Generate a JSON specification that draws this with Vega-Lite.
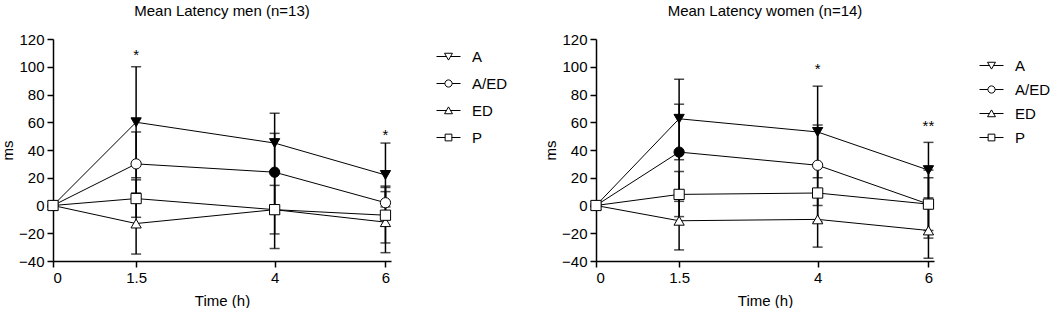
{
  "$schema": "https://vega.github.io/schema/vega-lite/v6.json",
  "padding": {"left": 0, "top": 4, "right": 0, "bottom": 0},
  "spacing": 35,
  "config": {
    "font": "Liberation Sans",
    "view": {"stroke": null},
    "axis": {"grid": false, "domainColor": "black", "tickColor": "black", "labelColor": "black", "titleColor": "black", "labelFontSize": 15, "titleFontSize": 15, "titleFontWeight": "normal", "domainWidth": 1.5, "tickWidth": 1.5, "tickSize": 6, "labelPadding": 3, "labelFont": "Liberation Sans", "titleFont": "Liberation Sans"},
    "legend": {"labelFont": "Liberation Sans", "labelFontSize": 15, "labelColor": "black"},
    "title": {"fontSize": 15, "fontWeight": "normal", "color": "black", "anchor": "middle", "font": "Liberation Sans"}
  },
  "datasets": {
    "men": [
      {"time": 0, "group": "A", "mean": 0, "lo": null, "hi": null, "sig": "no"},
      {"time": 1.5, "group": "A", "mean": 60, "lo": 20, "hi": 100, "sig": "yes"},
      {"time": 4, "group": "A", "mean": 45, "lo": 23.5, "hi": 66.5, "sig": "yes"},
      {"time": 6, "group": "A", "mean": 22, "lo": -1, "hi": 45, "sig": "yes"},
      {"time": 0, "group": "A/ED", "mean": 0, "lo": null, "hi": null, "sig": "no"},
      {"time": 1.5, "group": "A/ED", "mean": 30, "lo": 7, "hi": 53, "sig": "no"},
      {"time": 4, "group": "A/ED", "mean": 24, "lo": -4, "hi": 52, "sig": "yes"},
      {"time": 6, "group": "A/ED", "mean": 2, "lo": -10, "hi": 14, "sig": "no"},
      {"time": 0, "group": "ED", "mean": 0, "lo": null, "hi": null, "sig": "no"},
      {"time": 1.5, "group": "ED", "mean": -13, "lo": -35, "hi": 9, "sig": "no"},
      {"time": 4, "group": "ED", "mean": -3, "lo": -31, "hi": 25, "sig": "no"},
      {"time": 6, "group": "ED", "mean": -12, "lo": -34, "hi": 10, "sig": "no"},
      {"time": 0, "group": "P", "mean": 0, "lo": null, "hi": null, "sig": "no"},
      {"time": 1.5, "group": "P", "mean": 5, "lo": -8.5, "hi": 18.5, "sig": "no"},
      {"time": 4, "group": "P", "mean": -3, "lo": -20.5, "hi": 14.5, "sig": "no"},
      {"time": 6, "group": "P", "mean": -7, "lo": -27, "hi": 13, "sig": "no"}
    ],
    "women": [
      {"time": 0, "group": "A", "mean": 0, "lo": null, "hi": null, "sig": "no"},
      {"time": 1.5, "group": "A", "mean": 62.5, "lo": 33, "hi": 91, "sig": "yes"},
      {"time": 4, "group": "A", "mean": 53, "lo": 20, "hi": 86, "sig": "yes"},
      {"time": 6, "group": "A", "mean": 25.5, "lo": 5.5, "hi": 45.5, "sig": "yes"},
      {"time": 0, "group": "A/ED", "mean": 0, "lo": null, "hi": null, "sig": "no"},
      {"time": 1.5, "group": "A/ED", "mean": 38.5, "lo": 3, "hi": 73, "sig": "yes"},
      {"time": 4, "group": "A/ED", "mean": 29, "lo": 0, "hi": 58, "sig": "no"},
      {"time": 6, "group": "A/ED", "mean": 1, "lo": -23.5, "hi": 25.5, "sig": "no"},
      {"time": 0, "group": "ED", "mean": 0, "lo": null, "hi": null, "sig": "no"},
      {"time": 1.5, "group": "ED", "mean": -11, "lo": -32, "hi": 10, "sig": "no"},
      {"time": 4, "group": "ED", "mean": -10, "lo": -30, "hi": 10.5, "sig": "no"},
      {"time": 6, "group": "ED", "mean": -18, "lo": -38, "hi": 2, "sig": "no"},
      {"time": 0, "group": "P", "mean": 0, "lo": null, "hi": null, "sig": "no"},
      {"time": 1.5, "group": "P", "mean": 8, "lo": -8, "hi": 24.5, "sig": "no"},
      {"time": 4, "group": "P", "mean": 9, "lo": -12, "hi": 30, "sig": "no"},
      {"time": 6, "group": "P", "mean": 1, "lo": -18, "hi": 20, "sig": "no"}
    ],
    "starsMen": [
      {"time": 1.5, "y": 111, "label": "*"},
      {"time": 6, "y": 54, "label": "*"}
    ],
    "starsWomen": [
      {"time": 4, "y": 101, "label": "*"},
      {"time": 6, "y": 60, "label": "**"}
    ]
  },
  "resolve": {"scale": {"shape": "independent", "fill": "independent", "x": "independent", "y": "independent"}, "legend": {"shape": "independent"}},
  "hconcat": [
    {
      "title": {"text": "Mean Latency men (n=13)", "offset": 13},
      "width": 338,
      "height": 222,
      "resolve": {"scale": {"shape": "independent"}},
      "layer": [
        {
          "data": {"name": "men"},
          "mark": {"type": "line", "color": "black", "strokeWidth": 1},
          "encoding": {
            "x": {"field": "time", "type": "quantitative", "scale": {"domain": [0, 6.1], "nice": false, "zero": false}, "axis": {"values": [0, 1.5, 4, 6], "format": "~g", "title": "Time (h)", "titlePadding": 8}},
            "y": {"field": "mean", "type": "quantitative", "scale": {"domain": [-40, 120], "nice": false}, "axis": {"values": [-40, -20, 0, 20, 40, 60, 80, 100, 120], "tickCount": 9, "labelOverlap": false, "format": "d", "title": "ms", "titlePadding": 3}},
            "detail": {"field": "group"}
          }
        },
        {
          "data": {"name": "men"},
          "transform": [{"filter": "isValid(datum.lo)"}],
          "mark": {"type": "rule", "color": "black", "strokeWidth": 1.5},
          "encoding": {
            "x": {"field": "time", "type": "quantitative"},
            "y": {"field": "lo", "type": "quantitative"},
            "y2": {"field": "hi"}
          }
        },
        {
          "data": {"name": "men"},
          "transform": [{"filter": "isValid(datum.lo)"}],
          "mark": {"type": "tick", "orient": "horizontal", "color": "black", "size": 10, "thickness": 1.5},
          "encoding": {
            "x": {"field": "time", "type": "quantitative"},
            "y": {"field": "lo", "type": "quantitative"}
          }
        },
        {
          "data": {"name": "men"},
          "transform": [{"filter": "isValid(datum.hi)"}],
          "mark": {"type": "tick", "orient": "horizontal", "color": "black", "size": 10, "thickness": 1.5},
          "encoding": {
            "x": {"field": "time", "type": "quantitative"},
            "y": {"field": "hi", "type": "quantitative"}
          }
        },
        {
          "data": {"name": "men"},
          "mark": {"type": "point", "filled": true, "size": 105, "stroke": "black", "strokeWidth": 1, "opacity": 1},
          "encoding": {
            "x": {"field": "time", "type": "quantitative"},
            "y": {"field": "mean", "type": "quantitative"},
            "shape": {"field": "group", "type": "nominal", "scale": {"domain": ["A", "A/ED", "ED", "P"], "range": ["triangle-down", "circle", "triangle-up", "square"]}, "legend": null},
            "fill": {"field": "sig", "type": "nominal", "scale": {"domain": ["no", "yes"], "range": ["white", "black"]}, "legend": null}
          }
        },
        {
          "data": {"name": "men"},
          "mark": {"type": "point", "filled": false, "color": "black", "strokeWidth": 1, "opacity": 0},
          "encoding": {
            "x": {"field": "time", "type": "quantitative"},
            "y": {"field": "mean", "type": "quantitative"},
            "shape": {"field": "group", "type": "nominal",
              "scale": {"domain": ["A", "A/ED", "ED", "P"], "range": [
                "M-1,0H-0.17M0.17,0H1M-0.33,-0.27H0.33L0,0.3Z",
                "M-1,0H-0.3M0.3,0H1M0.3,0A0.3,0.3,0,1,1,-0.3,0A0.3,0.3,0,1,1,0.3,0Z",
                "M-1,0H-0.17M0.17,0H1M-0.33,0.27H0.33L0,-0.3Z",
                "M-1,0H-0.28M0.28,0H1M-0.28,-0.28H0.28V0.28H-0.28Z"]},
              "legend": {"title": null, "orient": "none", "legendX": 383, "legendY": 5, "padding": 0, "symbolSize": 576, "rowPadding": 6, "labelOffset": 11, "labelFontSize": 15, "symbolOpacity": 1, "symbolStrokeWidth": 1, "symbolStrokeColor": "black", "symbolFillColor": "white"}}
          }
        },
        {
          "data": {"name": "starsMen"},
          "mark": {"type": "text", "fontSize": 15, "baseline": "middle", "dy": 4, "color": "black"},
          "encoding": {
            "x": {"field": "time", "type": "quantitative"},
            "y": {"field": "y", "type": "quantitative"},
            "text": {"field": "label"}
          }
        }
      ]
    },
    {
      "title": {"text": "Mean Latency women (n=14)", "offset": 13},
      "width": 338,
      "height": 222,
      "resolve": {"scale": {"shape": "independent"}},
      "layer": [
        {
          "data": {"name": "women"},
          "mark": {"type": "line", "color": "black", "strokeWidth": 1},
          "encoding": {
            "x": {"field": "time", "type": "quantitative", "scale": {"domain": [0, 6.1], "nice": false, "zero": false}, "axis": {"values": [0, 1.5, 4, 6], "format": "~g", "title": "Time (h)", "titlePadding": 8}},
            "y": {"field": "mean", "type": "quantitative", "scale": {"domain": [-40, 120], "nice": false}, "axis": {"values": [-40, -20, 0, 20, 40, 60, 80, 100, 120], "tickCount": 9, "labelOverlap": false, "format": "d", "title": "ms", "titlePadding": 3}},
            "detail": {"field": "group"}
          }
        },
        {
          "data": {"name": "women"},
          "transform": [{"filter": "isValid(datum.lo)"}],
          "mark": {"type": "rule", "color": "black", "strokeWidth": 1.5},
          "encoding": {
            "x": {"field": "time", "type": "quantitative"},
            "y": {"field": "lo", "type": "quantitative"},
            "y2": {"field": "hi"}
          }
        },
        {
          "data": {"name": "women"},
          "transform": [{"filter": "isValid(datum.lo)"}],
          "mark": {"type": "tick", "orient": "horizontal", "color": "black", "size": 10, "thickness": 1.5},
          "encoding": {
            "x": {"field": "time", "type": "quantitative"},
            "y": {"field": "lo", "type": "quantitative"}
          }
        },
        {
          "data": {"name": "women"},
          "transform": [{"filter": "isValid(datum.hi)"}],
          "mark": {"type": "tick", "orient": "horizontal", "color": "black", "size": 10, "thickness": 1.5},
          "encoding": {
            "x": {"field": "time", "type": "quantitative"},
            "y": {"field": "hi", "type": "quantitative"}
          }
        },
        {
          "data": {"name": "women"},
          "mark": {"type": "point", "filled": true, "size": 105, "stroke": "black", "strokeWidth": 1, "opacity": 1},
          "encoding": {
            "x": {"field": "time", "type": "quantitative"},
            "y": {"field": "mean", "type": "quantitative"},
            "shape": {"field": "group", "type": "nominal", "scale": {"domain": ["A", "A/ED", "ED", "P"], "range": ["triangle-down", "circle", "triangle-up", "square"]}, "legend": null},
            "fill": {"field": "sig", "type": "nominal", "scale": {"domain": ["no", "yes"], "range": ["white", "black"]}, "legend": null}
          }
        },
        {
          "data": {"name": "women"},
          "mark": {"type": "point", "filled": false, "color": "black", "strokeWidth": 1, "opacity": 0},
          "encoding": {
            "x": {"field": "time", "type": "quantitative"},
            "y": {"field": "mean", "type": "quantitative"},
            "shape": {"field": "group", "type": "nominal",
              "scale": {"domain": ["A", "A/ED", "ED", "P"], "range": [
                "M-1,0H-0.17M0.17,0H1M-0.33,-0.27H0.33L0,0.3Z",
                "M-1,0H-0.3M0.3,0H1M0.3,0A0.3,0.3,0,1,1,-0.3,0A0.3,0.3,0,1,1,0.3,0Z",
                "M-1,0H-0.17M0.17,0H1M-0.33,0.27H0.33L0,-0.3Z",
                "M-1,0H-0.28M0.28,0H1M-0.28,-0.28H0.28V0.28H-0.28Z"]},
              "legend": {"title": null, "orient": "none", "legendX": 383, "legendY": 14, "padding": 0, "symbolSize": 576, "rowPadding": 3, "labelOffset": 11, "labelFontSize": 15, "symbolOpacity": 1, "symbolStrokeWidth": 1, "symbolStrokeColor": "black", "symbolFillColor": "white"}}
          }
        },
        {
          "data": {"name": "starsWomen"},
          "mark": {"type": "text", "fontSize": 15, "baseline": "middle", "dy": 4, "color": "black"},
          "encoding": {
            "x": {"field": "time", "type": "quantitative"},
            "y": {"field": "y", "type": "quantitative"},
            "text": {"field": "label"}
          }
        }
      ]
    }
  ]
}
